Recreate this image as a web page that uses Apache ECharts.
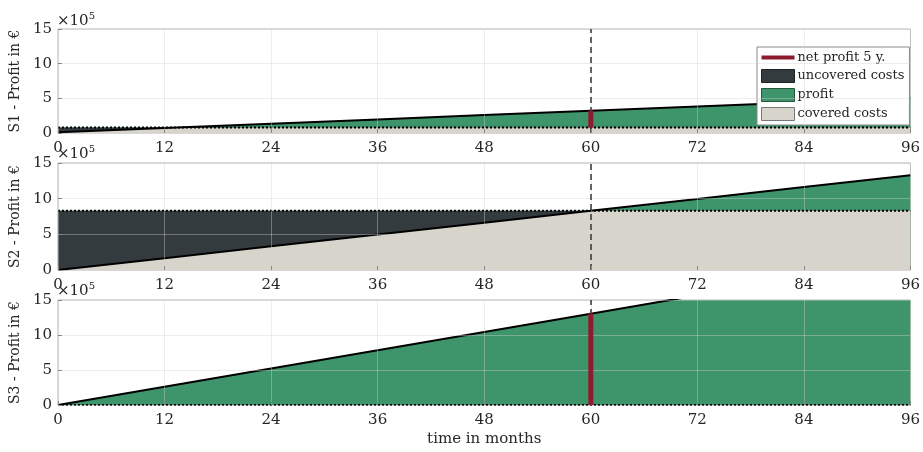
<!DOCTYPE html>
<html>
<head>
<meta charset="utf-8">
<script src="https://cdn.jsdelivr.net/npm/echarts@6/dist/echarts.min.js"></script>
<style>
  html, body { margin: 0; padding: 0; background: #fff; }
  #main { width: 923px; height: 452px; }
</style>
</head>
<body>
<div id="main"></div>
<script>
// values in 1e5 €
const months = [0, 12, 24, 36, 48, 60, 72, 84, 96];
const s1Profit = [0.1, 0.72, 1.34, 1.96, 2.58, 3.2, 3.82, 4.44, 5.06];
const s2Profit = [0, 1.66, 3.32, 4.98, 6.64, 8.3, 9.96, 11.62, 13.28];
const s3Profit = [0, 2.61, 5.22, 7.83, 10.44, 13.05, 15.66, 18.27, 20.88];
const costs = [0.78, 8.3, 0];
const yTicks = [0, 5, 10, 15];
const netMonth = 60;
const panelNames = ['S1 - Profit in €', 'S2 - Profit in €', 'S3 - Profit in €'];

const GREEN = '#3f956b';
const DARK = '#343b3f';
const BEIGE = '#d7d4cb';
const RED = '#8e1a2e';
const FONT = 'DejaVu Serif';

const grids = [
  { left: 57, right: 10, top: 29, height: 104 },
  { left: 57, right: 10, top: 163, height: 107 },
  { left: 57, right: 10, top: 300, height: 105 }
];

function pairs(vals) {
  return months.map((m, i) => [m, vals[i]]);
}

// areas are drawn on top of each other (no stack, x is a value axis):
// green up to max(profit, costs), dark up to costs, beige up to min(profit, costs)
function panelSeries(idx, profit, cost, showNet) {
  const top = profit.map(p => Math.max(p, cost));
  const costLine = months.map(() => cost);
  const covered = profit.map(p => Math.min(p, cost));
  const area = (name, vals, color, z) => ({
    name: name, type: 'line', xAxisIndex: idx, yAxisIndex: idx,
    data: pairs(vals), showSymbol: false, symbol: 'none',
    color: color, lineStyle: { width: 0 }, areaStyle: { color: color, opacity: 1 },
    z: z, silent: true
  });
  const out = [
    area('profit', top, GREEN, 2),
    area('uncovered costs', costLine, DARK, 2),
    area('covered costs', covered, BEIGE, 2),
    {
      name: 'profit line', type: 'line', xAxisIndex: idx, yAxisIndex: idx,
      data: pairs(profit), showSymbol: false, symbol: 'none',
      lineStyle: { color: '#000', width: 2 }, z: 3, silent: true
    },
    {
      name: 'costs line', type: 'line', xAxisIndex: idx, yAxisIndex: idx,
      data: pairs(costLine), showSymbol: false, symbol: 'none',
      lineStyle: { color: '#000', width: 2, type: [2, 2] }, z: 3, silent: true,
      markLine: {
        silent: true, symbol: 'none', label: { show: false },
        lineStyle: { color: '#333', width: 1.5, type: [6, 4] },
        data: [{ xAxis: netMonth }]
      }
    }
  ];
  if (showNet) {
    out.push({
      name: 'net profit 5 y.', type: 'line', xAxisIndex: idx, yAxisIndex: idx,
      data: [[netMonth, cost], [netMonth, profit[months.indexOf(netMonth)]]],
      showSymbol: false, symbol: 'none', color: RED,
      lineStyle: { color: RED, width: 5 }, z: 6, silent: true
    });
  }
  return out;
}

const series = [].concat(
  panelSeries(0, s1Profit, costs[0], true),
  panelSeries(1, s2Profit, costs[1], false),
  panelSeries(2, s3Profit, costs[2], true)
);

const xAxes = grids.map((g, i) => ({
  type: 'value', gridIndex: i, min: 0, max: 96, interval: 12, z: 5,
  name: i === 2 ? 'time in months' : '',
  nameLocation: 'middle', nameGap: 27,
  nameTextStyle: { fontFamily: FONT, fontSize: 15, color: '#262626' },
  axisLine: { show: false },
  axisTick: { show: true, inside: true, length: 4, lineStyle: { color: '#888' } },
  axisLabel: { margin: 8, fontFamily: FONT, fontSize: 15, color: '#262626' },
  splitLine: { show: true, lineStyle: { color: 'rgba(210,210,210,0.4)', width: 1 } }
}));

const yAxes = grids.map((g, i) => ({
  type: 'value', gridIndex: i, min: yTicks[0], max: yTicks[yTicks.length - 1], interval: 5, z: 5,
  name: panelNames[i], nameLocation: 'middle', nameGap: 32, nameRotate: 90,
  nameTextStyle: { fontFamily: FONT, fontSize: 14, color: '#262626' },
  axisLine: { show: false },
  axisTick: { show: true, inside: true, length: 4, lineStyle: { color: '#888' } },
  axisLabel: { margin: 6, fontFamily: FONT, fontSize: 15, color: '#262626' },
  splitLine: { show: true, lineStyle: { color: 'rgba(210,210,210,0.4)', width: 1 } }
}));

const expTops = [11, 144, 281];
const graphic = expTops.map(t => ({
  type: 'text', left: 57, top: t, z: 10,
  style: {
    text: '{a|×10}{b|5}',
    fill: '#262626',
    rich: {
      a: { fontFamily: FONT, fontSize: 15, fill: '#262626' },
      b: { fontFamily: FONT, fontSize: 10, fill: '#262626', padding: [0, 0, 10, 0] }
    }
  }
}));

const chart = echarts.init(document.getElementById('main'));
chart.setOption({
  animation: false,
  backgroundColor: '#fff',
  grid: grids.map(g => Object.assign({ show: true, borderColor: '#b5b5b5', borderWidth: 1, backgroundColor: 'transparent' }, g)),
  xAxis: xAxes,
  yAxis: yAxes,
  legend: {
    orient: 'vertical', left: 757, top: 47,
    itemWidth: 33, itemHeight: 13, itemGap: 5,
    padding: [4, 5, 4, 4],
    backgroundColor: '#fff', borderColor: '#888', borderWidth: 1,
    selectedMode: false,
    textStyle: { fontFamily: FONT, fontSize: 13, color: '#262626', padding: [0, 0, 0, -2] },
    data: [
      { name: 'net profit 5 y.', icon: 'path://M0,0H33V4H0Z', itemStyle: { color: RED } },
      { name: 'uncovered costs', icon: 'rect', itemStyle: { color: DARK, borderColor: '#1e2326', borderWidth: 1 } },
      { name: 'profit', icon: 'rect', itemStyle: { color: GREEN, borderColor: '#24573e', borderWidth: 1 } },
      { name: 'covered costs', icon: 'rect', itemStyle: { color: BEIGE, borderColor: '#777', borderWidth: 1 } }
    ]
  },
  graphic: graphic,
  series: series
});
</script>
</body>
</html>
